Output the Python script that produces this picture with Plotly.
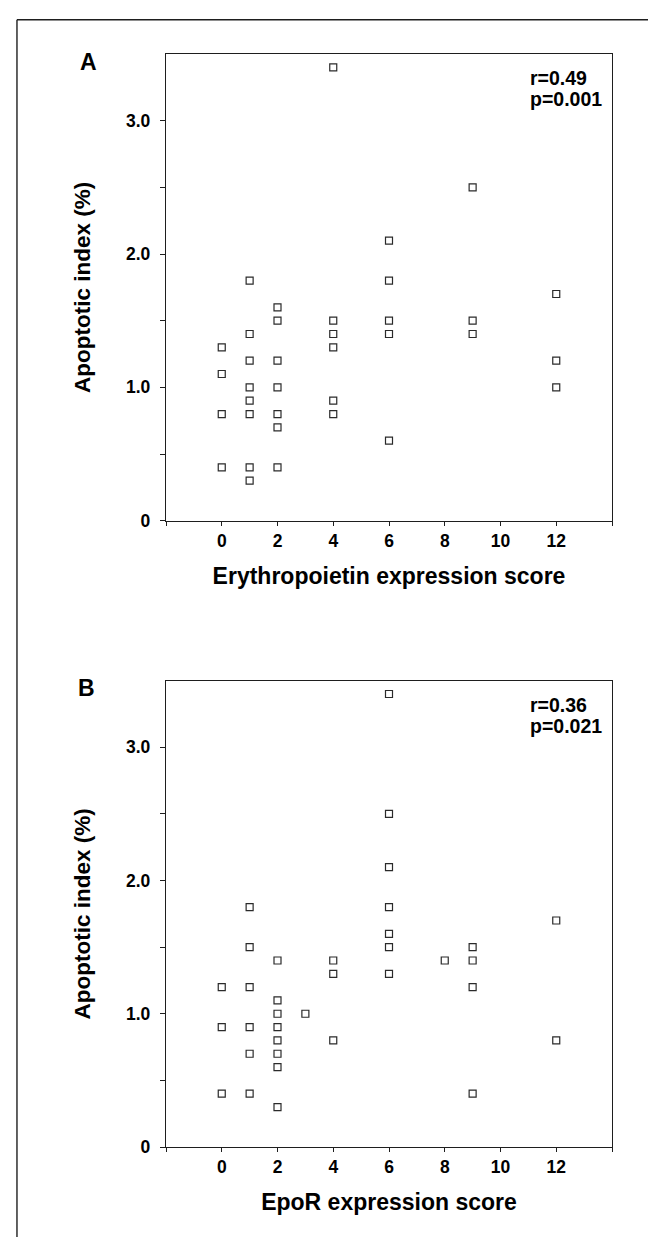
import plotly.graph_objects as go

# Panel A: Erythropoietin expression score vs apoptotic index
epo_score = [0, 0, 0, 0,
             1, 1, 1, 1, 1, 1, 1, 1,
             2, 2, 2, 2, 2, 2, 2,
             4, 4, 4, 4, 4, 4,
             6, 6, 6, 6, 6,
             9, 9, 9,
             12, 12, 12]
epo_ai = [1.3, 1.1, 0.8, 0.4,
          1.8, 1.4, 1.2, 1.0, 0.9, 0.8, 0.4, 0.3,
          1.6, 1.5, 1.2, 1.0, 0.8, 0.7, 0.4,
          3.4, 1.5, 1.4, 1.3, 0.9, 0.8,
          2.1, 1.8, 1.5, 1.4, 0.6,
          2.5, 1.5, 1.4,
          1.7, 1.2, 1.0]

# Panel B: EpoR expression score vs apoptotic index
epor_score = [0, 0, 0,
              1, 1, 1, 1, 1, 1,
              2, 2, 2, 2, 2, 2, 2, 2,
              3,
              4, 4, 4,
              6, 6, 6, 6, 6, 6, 6,
              8,
              9, 9, 9, 9,
              12, 12]
epor_ai = [1.2, 0.9, 0.4,
           1.8, 1.5, 1.2, 0.9, 0.7, 0.4,
           1.4, 1.1, 1.0, 0.9, 0.8, 0.7, 0.6, 0.3,
           1.0,
           1.4, 1.3, 0.8,
           3.4, 2.5, 2.1, 1.8, 1.6, 1.5, 1.3,
           1.4,
           1.5, 1.4, 1.2, 0.4,
           1.7, 0.8]

x_ticks = [-2, 0, 2, 4, 6, 8, 10, 12, 14]
x_labels = ["", "0", "2", "4", "6", "8", "10", "12", ""]
y_ticks = [0, 0.5, 1.0, 1.5, 2.0, 2.5, 3.0]
y_labels = ["0", "", "1.0", "", "2.0", "", "3.0"]

W, H = 656, 1237
L, R, T, B = 157.5, 52, 46, 98
PW, PH = W - L - R, H - T - B

def py(pix):  # pixel y (from top) -> paper y
    return (H - B - pix) / PH

def px(pix):
    return (pix - L) / PW

FONT = "Liberation Sans, Arial, sans-serif"
INK = "#1e1e1e"

fig = go.Figure()
marker = dict(symbol="square-open", size=7, color="#2a2a2a", line=dict(width=1.2))
fig.add_trace(go.Scatter(x=epo_score, y=epo_ai, mode="markers", marker=marker,
                         xaxis="x", yaxis="y", showlegend=False))
fig.add_trace(go.Scatter(x=epor_score, y=epor_ai, mode="markers", marker=marker,
                         xaxis="x2", yaxis="y2", showlegend=False))

axis_common = dict(showline=True, linecolor=INK, linewidth=1.4, mirror=True,
                   ticks="outside", tickwidth=1, tickcolor=INK,
                   showgrid=False, zeroline=False,
                   tickfont=dict(family=FONT, size=17.5, color="black", weight="bold"))

xa = dict(axis_common, range=[-2, 14], tickvals=x_ticks, ticktext=x_labels, ticklen=4)
ya = dict(axis_common, range=[0, 3.5], tickvals=y_ticks, ticktext=y_labels, ticklen=5,
          ticklabelstandoff=6)

xtitlefont = dict(family=FONT, size=23, color="black", weight="bold")
ytitlefont = dict(family=FONT, size=22.5, color="black", weight="bold")

yA0 = py(512.7)
yB1 = py(672.7)

def txt(s, x, y, size, xanchor="center", yanchor="middle"):
    return dict(text=s, x=px(x), y=py(y), xref="paper", yref="paper",
                xanchor=xanchor, yanchor=yanchor, showarrow=False,
                font=dict(family=FONT, size=size, color="black", weight="bold"))

fig.update_layout(
    width=W, height=H,
    margin=dict(l=L, r=R, t=T, b=B),
    paper_bgcolor="white", plot_bgcolor="white",
    xaxis=dict(xa, anchor="y",
               title=dict(text="Erythropoietin expression score", font=xtitlefont, standoff=17)),
    yaxis=dict(ya, anchor="x", domain=[yA0, 1.0],
               title=dict(text="Apoptotic index (%)", font=ytitlefont, standoff=29)),
    xaxis2=dict(xa, anchor="y2",
                title=dict(text="EpoR expression score", font=xtitlefont, standoff=17)),
    yaxis2=dict(ya, anchor="x2", domain=[0.0, yB1],
                title=dict(text="Apoptotic index (%)", font=ytitlefont, standoff=29)),
    annotations=[
        txt("A", 79.5, 54, 23),
        txt("B", 78, 680, 23),
        txt("r=0.49", 520, 70, 19.5, xanchor="left"),
        txt("p=0.001", 520, 91, 19.5, xanchor="left"),
        txt("r=0.36", 520, 697, 19.5, xanchor="left"),
        txt("p=0.021", 520, 718, 19.5, xanchor="left"),
    ],
    shapes=[
        dict(type="line", xref="paper", yref="paper", x0=px(8.3), x1=px(8.3), y0=py(11.7), y1=py(H),
             line=dict(color=INK, width=1.4)),
        dict(type="line", xref="paper", yref="paper", x0=px(8.3), x1=px(W), y0=py(11.7), y1=py(11.7),
             line=dict(color=INK, width=1.4)),
    ],
)

fig.write_html("out.html")
